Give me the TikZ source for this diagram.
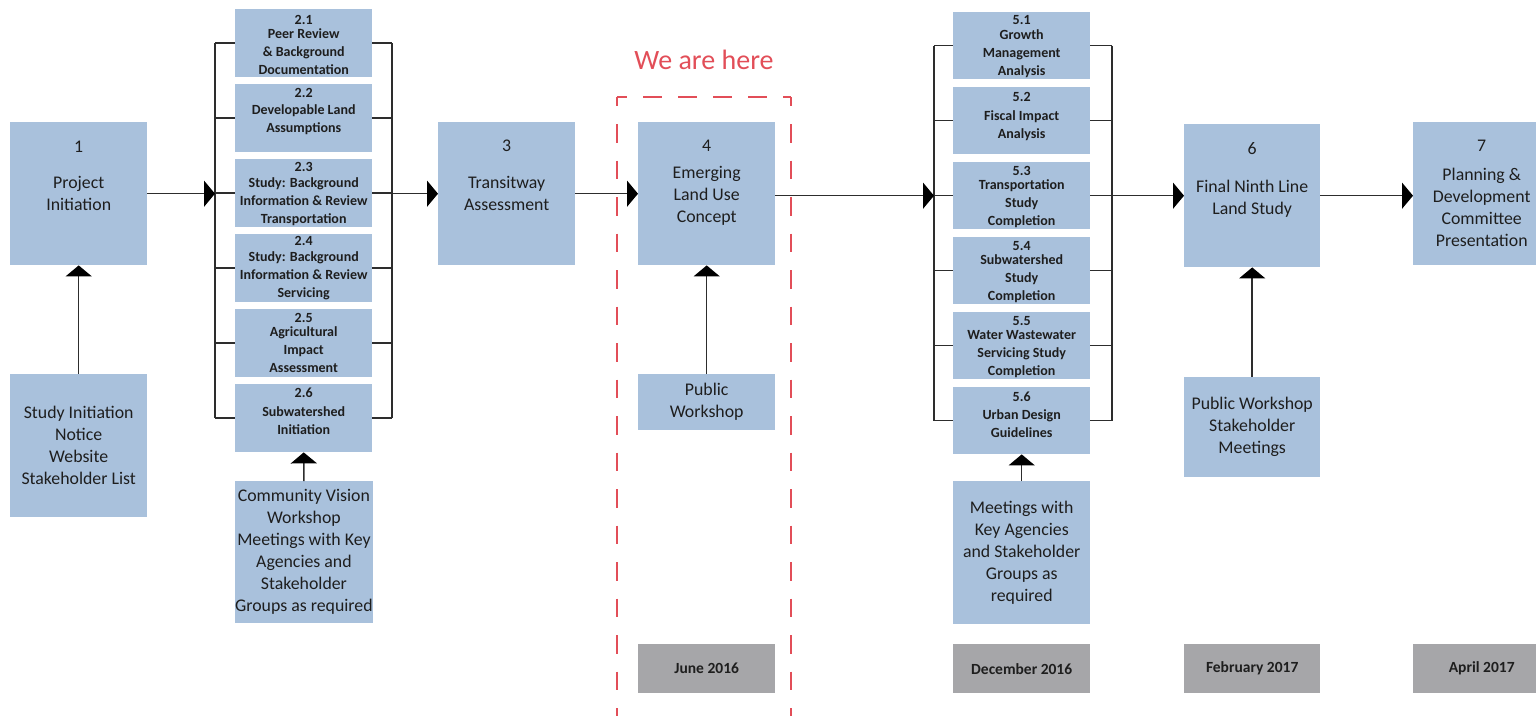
\documentclass[tikz,border=0pt]{standalone}
\usepackage{fontspec}
\setmainfont{Carlito}
\usetikzlibrary{arrows.meta}
\definecolor{boxblue}{RGB}{169,193,220}
\definecolor{dategray}{RGB}{166,166,169}
\definecolor{herered}{RGB}{226,78,88}
\definecolor{txt}{RGB}{30,30,30}
\definecolor{ln}{RGB}{45,45,45}
\newcommand\mainsz{\fontsize{17.8}{22}\selectfont}
\newcommand\smallsz{\bfseries\fontsize{14}{18}\selectfont}
\newcommand\datesz{\bfseries\fontsize{15.5}{18}\selectfont}
\newcommand\heresz{\fontsize{28}{32}\selectfont}
\begin{document}
\begin{tikzpicture}[x=1pt,y=-1pt,
  bx/.style={fill=boxblue, draw=none, inner sep=0pt, anchor=north west,
    minimum width=137pt, text=txt, align=center, font=\mainsz},
  dt/.style={fill=dategray, draw=none, inner sep=0pt, anchor=north west,
    minimum width=137pt, minimum height=49pt, text=txt, font=\datesz},
  numtxt/.style={inner sep=0pt, text=txt, font=\mainsz},
  maintxt/.style={inner sep=0pt, text=txt, align=center, font=\mainsz},
  smalltxt/.style={inner sep=0pt, anchor=north, text=txt, align=center, font=\smallsz},
  arr/.style={draw=ln, line width=1.5pt, -{Triangle[length=11pt,width=26pt,color=black]}},
  brk/.style={draw=ln, line width=1.5pt},
  dsh/.style={draw=herered, line width=1.8pt}
]
\useasboundingbox (0,0) rectangle (1536,715);
\clip (0,0) rectangle (1536,715);

% ---- main boxes ----
\node[bx, minimum height=143pt] (b1) at (10,122) {};
\node[numtxt] (n1) at ([yshift=-25pt]b1.north) {1};
\node[maintxt] (t1) at (b1.center) {Project\\Initiation};

\node[bx, minimum height=143pt] (b3) at (438,122) {};
\node[numtxt] (n3) at ([yshift=-24pt]b3.north) {3};
\node[maintxt] (t3) at (b3.center) {Transitway\\Assessment};

\node[bx, minimum height=143pt] (b4) at (638,122) {};
\node[numtxt] (n4) at ([yshift=-24pt]b4.north) {4};
\node[maintxt] (t4) at ([yshift=-2.5pt]b4.center) {Emerging\\Land Use\\Concept};

\node[bx, minimum height=143pt, minimum width=136pt] (b6) at (1184,124) {};
\node[numtxt] (n6) at ([yshift=-25pt]b6.north) {6};
\node[maintxt] (t6) at ([yshift=-3pt]b6.center) {Final Ninth Line\\Land Study};

\node[bx, minimum height=143pt] (b7) at (1413,122) {};
\node[numtxt] (n7) at ([yshift=-24pt]b7.north) {7};
\node[maintxt] (t7) at ([yshift=-13.5pt]b7.center) {Planning \&\\Development\\Committee\\Presentation};

% ---- column 2 ----
\foreach \i/\y in {1/9,2/84,3/159,4/234,5/309,6/384}
  \node[bx, minimum height=68pt] (b2\i) at (235,\y) {};
\node[smalltxt] (t21) at ([yshift=-6pt]b21.north) {2.1\\[-4pt]Peer Review\\\& Background\\Documentation};
\node[smalltxt] (t22) at ([yshift=-4.5pt]b22.north) {2.2\\[-1pt]Developable Land\\Assumptions};
\node[smalltxt] (t23) at ([yshift=-3.5pt]b23.north) {2.3\\[-2pt]Study: Background\\Information \& Review\\Transportation};
\node[smalltxt] (t24) at ([yshift=-2pt]b24.north) {2.4\\[-2pt]Study: Background\\Information \& Review\\Servicing};
\node[smalltxt] (t25) at ([yshift=-4.5pt]b25.north) {2.5\\[-4pt]Agricultural\\Impact\\Assessment};
\node[smalltxt] (t26) at ([yshift=-3.5pt]b26.north) {2.6\\[1pt]Subwatershed\\Initiation};

% ---- column 5 ----
\foreach \i/\y in {1/12,2/87,3/162,4/237,5/312,6/387}
  \node[bx, minimum height=67pt] (b5\i) at (953,\y) {};
\node[smalltxt] (t51) at ([yshift=-3.5pt]b51.north) {5.1\\[-3pt]Growth\\Management\\Analysis};
\node[smalltxt] (t52) at ([yshift=-5.5pt]b52.north) {5.2\\[1pt]Fiscal Impact\\Analysis};
\node[smalltxt] (t53) at ([yshift=-4.5pt]b53.north) {5.3\\[-4pt]Transportation\\Study\\Completion};
\node[smalltxt] (t54) at ([yshift=-4.5pt]b54.north) {5.4\\[-4pt]Subwatershed\\Study\\Completion};
\node[smalltxt] (t55) at ([yshift=-4.5pt]b55.north) {5.5\\[-4pt]Water Wastewater\\Servicing Study\\Completion};
\node[smalltxt] (t56) at ([yshift=-4.5pt]b56.north) {5.6\\[0pt]Urban Design\\Guidelines};

% ---- lower boxes ----
\node[bx, minimum height=143pt] (s1) at (10,374) {Study Initiation\\Notice\\Website\\Stakeholder List};
\node[bx, minimum height=142pt] (cv) at (235,481) {Community Vision\\Workshop\\Meetings with Key\\Agencies and\\Stakeholder\\Groups as required};
\node[bx, minimum height=56pt] (pw) at (638,374) {Public\\Workshop};
\node[bx, minimum height=143pt] (mk) at (953,481) {Meetings with\\Key Agencies\\and Stakeholder\\Groups as\\required};
\node[bx, minimum height=100pt, minimum width=136pt] (pw6) at (1184,377) {Public Workshop\\Stakeholder\\Meetings};

% ---- date boxes ----
\node[dt] (d4) at (638,644) {June 2016};
\node[dt] (d5) at (953,644) {December 2016};
\node[dt, minimum width=136pt] (d6) at (1184,644) {February 2017};
\node[dt] (d7) at (1413,644) {April 2017};

% ---- brackets ----
\coordinate (L2) at (215,0);
\coordinate (R2) at (392,0);
\coordinate (L5) at (934,0);
\coordinate (R5) at (1112,0);
\draw[brk] (b21.west -| L2) -- (b26.west -| L2);
\draw[brk] (b21.east -| R2) -- (b26.east -| R2);
\draw[brk] (b51.west -| L5) -- (b56.west -| L5);
\draw[brk] (b51.east -| R5) -- (b56.east -| R5);
\foreach \i in {1,...,6}{
  \draw[brk] (b2\i.west -| L2) -- (b2\i.west);
  \draw[brk] (b2\i.east) -- (b2\i.east -| R2);
  \draw[brk] (b5\i.west -| L5) -- (b5\i.west);
  \draw[brk] (b5\i.east) -- (b5\i.east -| R5);
}

% ---- main flow ----
\draw[arr] (b1.east) -- (b1.east -| L2);
\draw[arr] (R2 |- b3.west) -- (b3.west);
\draw[arr] (b3.east) -- (b4.west);
\draw[arr] (b4.east |- b53.west) -- (L5 |- b53.west);
\draw[arr] (R5 |- b6.west) -- (b6.west);
\draw[arr] (b6.east) -- (b7.west |- b6.east);

% ---- up arrows ----
\draw[arr] (s1.north) -- (b1.south);
\draw[arr] (cv.north) -- (b26.south);
\draw[arr] (pw.north) -- (b4.south);
\draw[arr] (mk.north) -- (b56.south);
\draw[arr] (pw6.north) -- (b6.south);

% ---- we are here ----
\node[text=herered, font=\heresz, inner sep=0pt] (here) at (704,60) {We are here};
\coordinate (dTL) at (617,97);
\coordinate (dTR) at (791,97);
\coordinate (dBL) at (617,730);
\coordinate (dBR) at (791,730);
\draw[dsh, dash pattern=on 19pt off 16pt, dash phase=9pt] (dTL) -- (dTR);
\draw[dsh, dash pattern=on 18.5pt off 18pt, dash phase=9.5pt] (dTL) -- (dBL);
\draw[dsh, dash pattern=on 18.5pt off 18pt, dash phase=9.5pt] (dTR) -- (dBR);
\end{tikzpicture}
\end{document}
